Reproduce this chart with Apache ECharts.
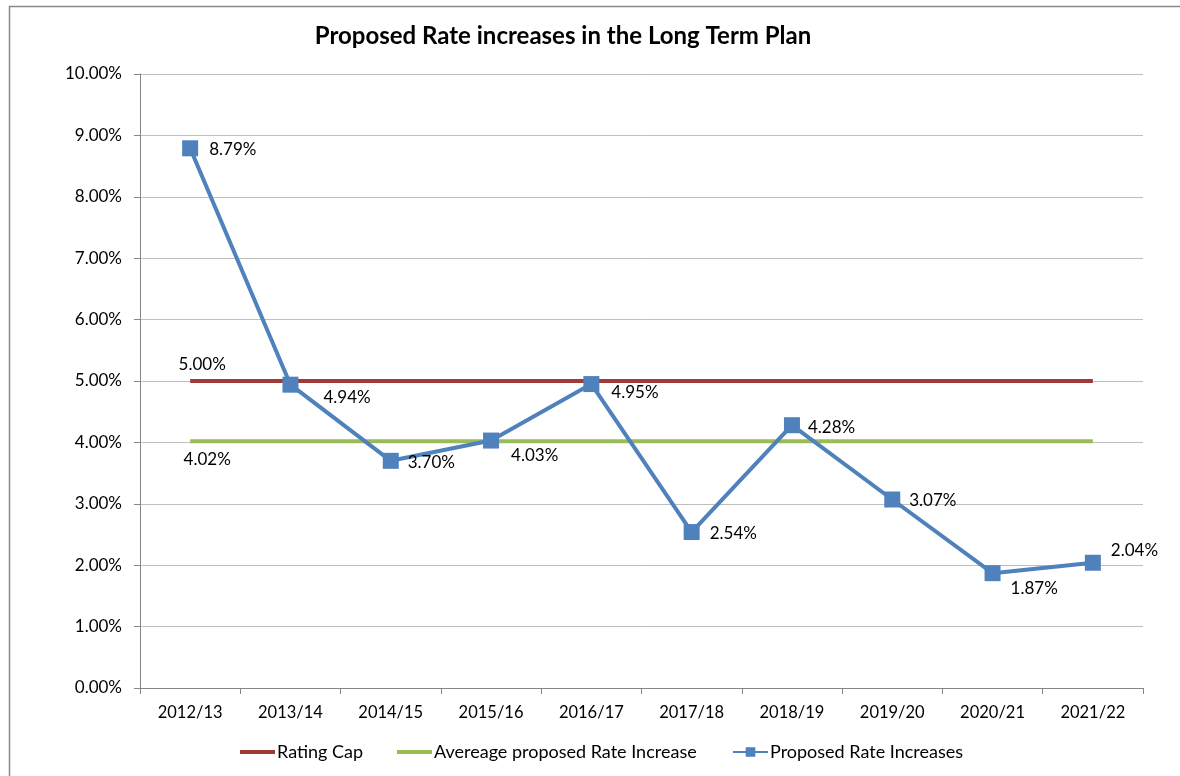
<!DOCTYPE html>
<html>
<head>
<meta charset="utf-8">
<script src="https://cdn.jsdelivr.net/npm/echarts@6/dist/echarts.min.js"></script>
<style>html,body{margin:0;padding:0;background:#fff}#c{width:1180px;height:776px}</style>
</head>
<body>
<div id="c"></div>
<script>
var categories = ['2012/13','2013/14','2014/15','2015/16','2016/17','2017/18','2018/19','2019/20','2020/21','2021/22'];
var ratingCap = [5.00,5.00,5.00,5.00,5.00,5.00,5.00,5.00,5.00,5.00];
var averageIncrease = [4.02,4.02,4.02,4.02,4.02,4.02,4.02,4.02,4.02,4.02];
var proposedIncreases = [8.79,4.94,3.70,4.03,4.95,2.54,4.28,3.07,1.87,2.04];
var yTicks = [0,1,2,3,4,5,6,7,8,9,10];

var FONT = 'Lato, "Noto Sans", sans-serif';
var labelOffsets = [[6,1],[20,13],[4,2],[7,15],[7,8],[5,1],[3,2],[4,1],[5,15],[5,-12]];

function fmt(v){ return v.toFixed(2) + '%'; }

var proposedData = proposedIncreases.map(function(v,i){
  return {value: v, label: {show: true, position: 'right', offset: labelOffsets[i]}};
});
var capData = ratingCap.map(function(v,i){
  return i === 0 ? {value: v, label: {show: true, position: 'top', offset: [12, -3]}} : v;
});
var avgData = averageIncrease.map(function(v,i){
  return i === 0 ? {value: v, label: {show: true, position: 'bottom', offset: [17, 5]}} : v;
});

var chart = echarts.init(document.getElementById('c'), null, {renderer: 'canvas'});
var labelStyle = {color: '#000', fontFamily: FONT, fontSize: 17, formatter: function(p){ return fmt(p.value); }};

chart.setOption({
  animation: false,
  backgroundColor: '#fff',
  graphic: [{
    type: 'rect', silent: true, z: -1,
    shape: {x: 9.5, y: 6.5, width: 1300, height: 1000},
    style: {fill: 'none', stroke: '#8a8a8a', lineWidth: 1.5}
  }],
  title: {
    text: 'Proposed Rate increases in the Long Term Plan',
    left: 558, top: 19, textAlign: 'center',
    textStyle: {fontFamily: FONT, fontWeight: 'bold', fontSize: 24, color: '#000'}
  },
  legend: [
    {data: [{name: 'Rating Cap', icon: 'rect'}], left: 240, top: 743, itemHeight: 4},
    {data: [{name: 'Avereage proposed Rate Increase', icon: 'rect'}], left: 397, top: 743, itemHeight: 4},
    {data: ['Proposed Rate Increases'], left: 732, top: 743, itemHeight: 12}
  ].map(function(l){
    l.itemWidth = 35; l.itemGap = 0; l.padding = 0;
    l.textStyle = {fontFamily: FONT, fontSize: 18, color: '#000', padding: [0,0,0,-3]};
    return l;
  }),
  grid: {left: 140, right: 37, top: 74, bottom: 88, containLabel: false},
  xAxis: {
    type: 'category', data: categories, boundaryGap: true,
    axisLine: {lineStyle: {color: '#868686', width: 1}},
    axisTick: {show: true, length: 6, interval: 0, lineStyle: {color: '#868686'}},
    axisLabel: {color: '#000', fontFamily: FONT, fontSize: 16.5, margin: 16, interval: 0}
  },
  yAxis: {
    type: 'value', min: 0, max: 10, interval: 1,
    axisLine: {show: true, lineStyle: {color: '#868686', width: 1}},
    axisTick: {show: true, length: 6, lineStyle: {color: '#868686'}},
    splitLine: {lineStyle: {color: '#bfbfbf', width: 1}},
    axisLabel: {color: '#000', fontFamily: FONT, fontSize: 17, margin: 18,
      formatter: function(v){ return yTicks.indexOf(v) >= 0 ? fmt(v) : ''; }}
  },
  series: [
    {
      name: 'Rating Cap', type: 'line', data: capData, z: 2,
      symbol: 'circle', symbolSize: 0, showSymbol: true,
      lineStyle: {color: '#A13A37', width: 4},
      itemStyle: {color: '#A13A37'},
      label: Object.assign({}, labelStyle, {show: false})
    },
    {
      name: 'Avereage proposed Rate Increase', type: 'line', data: avgData, z: 2,
      symbol: 'circle', symbolSize: 0, showSymbol: true,
      lineStyle: {color: '#9BBB59', width: 4},
      itemStyle: {color: '#9BBB59'},
      label: Object.assign({}, labelStyle, {show: false})
    },
    {
      name: 'Proposed Rate Increases', type: 'line', data: proposedData, z: 3,
      symbol: 'rect', symbolSize: 16,
      lineStyle: {color: '#4F81BD', width: 4},
      itemStyle: {color: '#4F81BD'},
      label: labelStyle
    }
  ]
});
</script>
</body>
</html>
